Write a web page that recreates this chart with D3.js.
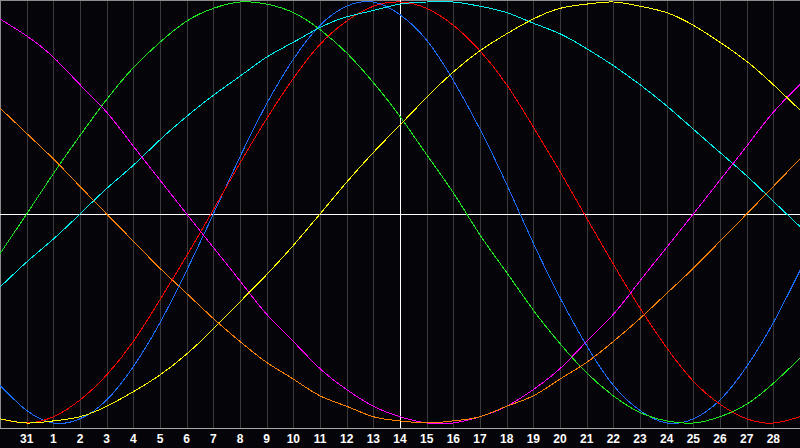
<!DOCTYPE html>
<html>
<head>
<meta charset="utf-8">
<script src="https://cdn.jsdelivr.net/npm/d3@7"></script>
<style>
  html, body { margin: 0; padding: 0; background: #050408; }
  svg { display: block; }
</style>
</head>
<body>
<svg id="chart" width="800" height="448"></svg>
<script>
// Day labels, Jan 30 .. Mar 1 (index 0..30)
var dayLabels = ["30", "31", "1", "2", "3", "4", "5", "6", "7", "8", "9", "10", "11", "12", "13",
  "14", "15", "16", "17", "18", "19", "20", "21", "22", "23", "24", "25", "26", "27", "28", "1"];
var todayIndex = 15;

// Curve values per day (percent)
var physical = [-82, -94, -100, -98, -89, -73, -52, -27, 0, 27, 52, 73, 89, 98, 100, 94,
  82, 63, 40, 14, -14, -40, -63, -82, -94, -100, -98, -89, -73, -52, -27];
var emotional = [-98, -100, -97, -89, -77, -61, -41, -20, 2, 24, 45, 64, 80, 91, 98, 100,
  97, 89, 77, 61, 41, 20, -2, -24, -45, -64, -80, -91, -98, -100, -97];
var intellectual = [-19, 0, 19, 37, 54, 69, 81, 91, 97, 100, 99, 95, 87, 76, 62, 46,
  28, 10, -10, -28, -46, -62, -76, -87, -95, -99, -100, -97, -91, -81, -69];
var spiritual = [-35, -23, -12, 0, 12, 23, 35, 46, 56, 65, 74, 81, 88, 93, 96, 99,
  100, 100, 98, 95, 90, 85, 78, 70, 61, 51, 40, 29, 18, 6, -6];
var intuitive = [92, 84, 74, 61, 48, 32, 16, 0, -16, -32, -48, -61, -74, -84, -92, -97,
  -100, -100, -97, -92, -84, -74, -61, -48, -32, -16, 0, 16, 32, 48, 61];
var aesthetic = [-98, -100, -99, -97, -92, -85, -77, -67, -55, -42, -29, -15, 0, 15, 29, 42,
  55, 67, 77, 85, 92, 97, 99, 100, 98, 95, 89, 81, 72, 61, 49];
var awareness = [50, 38, 26, 13, 0, -13, -26, -38, -50, -61, -71, -79, -87, -92, -97, -99,
  -100, -99, -97, -92, -87, -79, -71, -61, -50, -38, -26, -13, 0, 13, 26];

var series = [
  { name: "physical", values: physical, colour: "#1a6cff" },
  { name: "emotional", values: emotional, colour: "#ff0000" },
  { name: "intellectual", values: intellectual, colour: "#1ee81e" },
  { name: "spiritual", values: spiritual, colour: "#00f0f0" },
  { name: "intuitive", values: intuitive, colour: "#ff00ff" },
  { name: "aesthetic", values: aesthetic, colour: "#ffff00" },
  { name: "awareness", values: awareness, colour: "#ff8000" }
];

var width = 800;
var axisY = 428;
var gridColour = '#3a3a3a';
var frameColour = '#8c8c8c';
var axisColour = '#a8a8a8';

var svg = d3.select("#chart");

var x = d3.scaleLinear().domain([0, dayLabels.length - 1]).range([0, width]);
// zero line sits slightly below the middle in the original
var y = d3.scaleLinear().domain([-100, 0, 100]).range([423, 214, 2]);

svg.append("rect")
  .attr("width", 800).attr("height", 448)
  .attr("fill", "#050408");

// vertical day grid
svg.append("g")
  .selectAll("line")
  .data(d3.range(1, dayLabels.length - 1))
  .enter().append("line")
  .attr("x1", function (d) { return Math.round(x(d)) + 0.5; })
  .attr("x2", function (d) { return Math.round(x(d)) + 0.5; })
  .attr("y1", 0)
  .attr("y2", axisY)
  .attr("stroke", gridColour)
  .attr("stroke-width", 1)
  .attr("shape-rendering", "crispEdges");

// frame: top, left, bottom axis
svg.append("line")
  .attr("x1", 0).attr("x2", width).attr("y1", 0.5).attr("y2", 0.5)
  .attr("stroke", frameColour).attr("shape-rendering", "crispEdges");
svg.append("line")
  .attr("x1", 0.5).attr("x2", 0.5).attr("y1", 0).attr("y2", axisY)
  .attr("stroke", frameColour).attr("shape-rendering", "crispEdges");
svg.append("line")
  .attr("x1", 0).attr("x2", width).attr("y1", axisY + 0.5).attr("y2", axisY + 0.5)
  .attr("stroke", axisColour).attr("shape-rendering", "crispEdges");

// zero line and today line
svg.append("line")
  .attr("x1", 0).attr("x2", width)
  .attr("y1", Math.round(y(0)) + 0.5).attr("y2", Math.round(y(0)) + 0.5)
  .attr("stroke", "#ffffff").attr("shape-rendering", "crispEdges");
svg.append("line")
  .attr("x1", Math.round(x(todayIndex)) + 0.5).attr("x2", Math.round(x(todayIndex)) + 0.5)
  .attr("y1", 0).attr("y2", axisY)
  .attr("stroke", "#ffffff").attr("shape-rendering", "crispEdges");

var line = d3.line()
  .x(function (d, i) { return x(i); })
  .y(function (d) { return y(d); })
  .curve(d3.curveNatural);

svg.append("g")
  .selectAll("path")
  .data(series)
  .enter().append("path")
  .attr("d", function (s) { return line(s.values); })
  .attr("fill", "none")
  .attr("stroke", function (s) { return s.colour; })
  .attr("stroke-width", 1)
  .attr("shape-rendering", "crispEdges");

// day labels under the axis
svg.append("g")
  .selectAll("text")
  .data(d3.range(1, dayLabels.length - 1))
  .enter().append("text")
  .attr("x", function (d) { return x(d); })
  .attr("y", 443)
  .attr("text-anchor", "middle")
  .attr("font-family", "'Liberation Sans', Arial, sans-serif")
  .attr("font-weight", "bold")
  .attr("font-size", 12)
  .attr("fill", "#ffffff")
  .text(function (d) { return dayLabels[d]; });
</script>
</body>
</html>
